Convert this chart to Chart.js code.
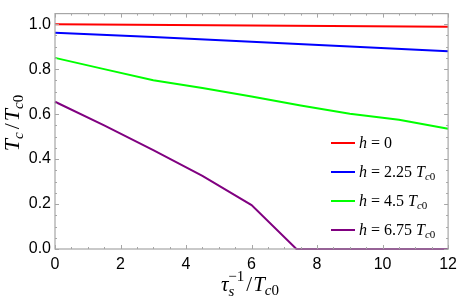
<!DOCTYPE html>
<html>
<head>
<meta charset="utf-8">
<script src="https://cdn.jsdelivr.net/npm/chart.js@4"></script>
<style>
  html, body { margin: 0; padding: 0; background: #fff; }
  #wrap { width: 463px; height: 298px; }
</style>
</head>
<body>
<div id="wrap"><canvas id="chart" width="463" height="298"></canvas></div>
<script>
// curve data (x = tau_s^-1 / Tc0, y = Tc / Tc0)
const xRed = [0, 12];
const yRed = [1.0, 0.988];
const xBlue = [0, 3, 6, 9, 12];
const yBlue = [0.962, 0.943, 0.922, 0.901, 0.880];
const xGreen = [0, 1.5, 3, 4.5, 6, 7.5, 9, 10.5, 12];
const yGreen = [0.85, 0.80, 0.751, 0.716, 0.678, 0.638, 0.602, 0.575, 0.535];
const xPurple = [0, 1.5, 3, 4.5, 6, 7.37, 12];
const yPurple = [0.655, 0.55, 0.44, 0.325, 0.195, 0, 0];

const xTicks = [0, 2, 4, 6, 8, 10, 12];
const yTicks = [0, 0.2, 0.4, 0.6, 0.8, 1.0];

const legendH = ['0', '2.25', '4.5', '6.75'];
const colors = ['#ff0000', '#0000ff', '#00ff00', '#800080'];

const SERIF = '"Liberation Serif", "DejaVu Serif", serif';
const SANS = '"Liberation Sans", Arial, sans-serif';

function pts(xs, ys) {
    return xs.map((x, i) => ({ x: x, y: ys[i] }));
}

// draw a run of text pieces (italic / sub / sup), returns the width
function richText(ctx, parts, x, y, measureOnly) {
    let cx = x;
    parts.forEach(p => {
        ctx.font = `${p.it ? 'italic ' : ''}${p.size}px ${SERIF}`;
        if (!measureOnly) ctx.fillText(p.t, cx, y + (p.dy || 0));
        cx += ctx.measureText(p.t).width + (p.gap || 0);
    });
    return cx - x;
}

const framePlugin = {
    id: 'frame',
    afterDraw(chart) {
        const ctx = chart.ctx;
        const a = chart.chartArea;
        const xs = chart.scales.x, ys = chart.scales.y;
        ctx.save();
        ctx.strokeStyle = '#a6a6a6';
        ctx.lineWidth = 1.2;
        ctx.strokeRect(a.left, a.top, a.right - a.left, a.bottom - a.top);

        // inward ticks, majors longer than minors
        ctx.lineWidth = 1;
        ctx.beginPath();
        for (let v = 0; v <= 12.001; v += 0.5) {
            const px = Math.round(xs.getPixelForValue(v)) + 0.5;
            const len = Math.abs(v % 2) < 1e-6 ? 4 : 2;
            ctx.moveTo(px, a.bottom); ctx.lineTo(px, a.bottom - len);
            ctx.moveTo(px, a.top); ctx.lineTo(px, a.top + len);
        }
        for (let k = 0; k <= 20; k++) {
            const py = Math.round(ys.getPixelForValue(k * 0.05)) + 0.5;
            const len = k % 4 === 0 ? 4 : 2;
            ctx.moveTo(a.left, py); ctx.lineTo(a.left + len, py);
            ctx.moveTo(a.right, py); ctx.lineTo(a.right - len, py);
        }
        ctx.stroke();

        ctx.fillStyle = '#000';
        ctx.textBaseline = 'alphabetic';
        ctx.textAlign = 'left';

        // legend
        const rowY = [143, 172, 201, 230];
        legendH.forEach((h, i) => {
            ctx.strokeStyle = colors[i];
            ctx.lineWidth = 2;
            ctx.beginPath();
            ctx.moveTo(331, rowY[i]); ctx.lineTo(355, rowY[i]);
            ctx.stroke();
            const parts = [
                { t: 'h', it: true, size: 16, gap: 4 },
                { t: '=', size: 16, gap: 4 },
                { t: h, size: 16, gap: 4 }
            ];
            if (h !== '0') {
                parts.push({ t: 'T', it: true, size: 16 });
                parts.push({ t: 'c', it: true, size: 11, dy: 3 });
                parts.push({ t: '0', size: 11, dy: 3 });
            }
            richText(ctx, parts, 359, rowY[i] + 5);
        });

        // y axis title
        const yParts = [
            { t: 'T', it: true, size: 22 },
            { t: 'c', it: true, size: 15, dy: 4, gap: 3 },
            { t: '/', size: 22, gap: 2 },
            { t: 'T', it: true, size: 22 },
            { t: 'c', it: true, size: 15, dy: 4 },
            { t: '0', size: 15, dy: 4 }
        ];
        ctx.save();
        ctx.translate(19, 123);
        ctx.rotate(-Math.PI / 2);
        const wy = richText(ctx, yParts, 0, 0, true);
        richText(ctx, yParts, -wy / 2, 0);
        ctx.restore();

        // x axis title
        const xParts = [
            { t: 'τ', it: true, size: 21 },
            { t: 's', it: true, size: 15, dy: 5, gap: -6 },
            { t: '−1', size: 15, dy: -10, gap: 2 },
            { t: '/', size: 21, gap: 1 },
            { t: 'T', it: true, size: 21 },
            { t: 'c', it: true, size: 15, dy: 4 },
            { t: '0', size: 15, dy: 4 }
        ];
        const wx = richText(ctx, xParts, 0, 0, true);
        richText(ctx, xParts, 250 - wx / 2, 291);
        ctx.restore();
    }
};

const datasets = [
    pts(xRed, yRed), pts(xBlue, yBlue), pts(xGreen, yGreen), pts(xPurple, yPurple)
].map((d, i) => ({
    data: d,
    borderColor: colors[i],
    borderWidth: 2,
    pointRadius: 0,
    tension: 0,
    fill: false,
    clip: false
}));

new Chart(document.getElementById('chart'), {
    type: 'line',
    data: { datasets },
    options: {
        responsive: false,
        animation: false,
        layout: { padding: { top: 4, right: 9, left: 0, bottom: 0 } },
        plugins: { legend: { display: false }, tooltip: { enabled: false } },
        scales: {
            x: {
                type: 'linear',
                min: 0,
                max: 12,
                grid: { display: false, drawTicks: false },
                border: { display: false },
                afterFit(s) { s.height = 49; },
                afterBuildTicks(s) { s.ticks = xTicks.map(v => ({ value: v })); },
                ticks: {
                    color: '#000',
                    padding: 6,
                    maxRotation: 0,
                    font: { family: SANS, size: 16 },
                    callback: v => String(v)
                }
            },
            y: {
                type: 'linear',
                min: 0,
                max: 1.047,
                grid: { display: false, drawTicks: false },
                border: { display: false },
                afterFit(s) { s.width = 55; },
                afterBuildTicks(s) { s.ticks = yTicks.map(v => ({ value: v })); },
                ticks: {
                    color: '#000',
                    padding: 4,
                    font: { family: SANS, size: 16 },
                    callback: v => v.toFixed(1)
                }
            }
        }
    },
    plugins: [framePlugin]
});
</script>
</body>
</html>
